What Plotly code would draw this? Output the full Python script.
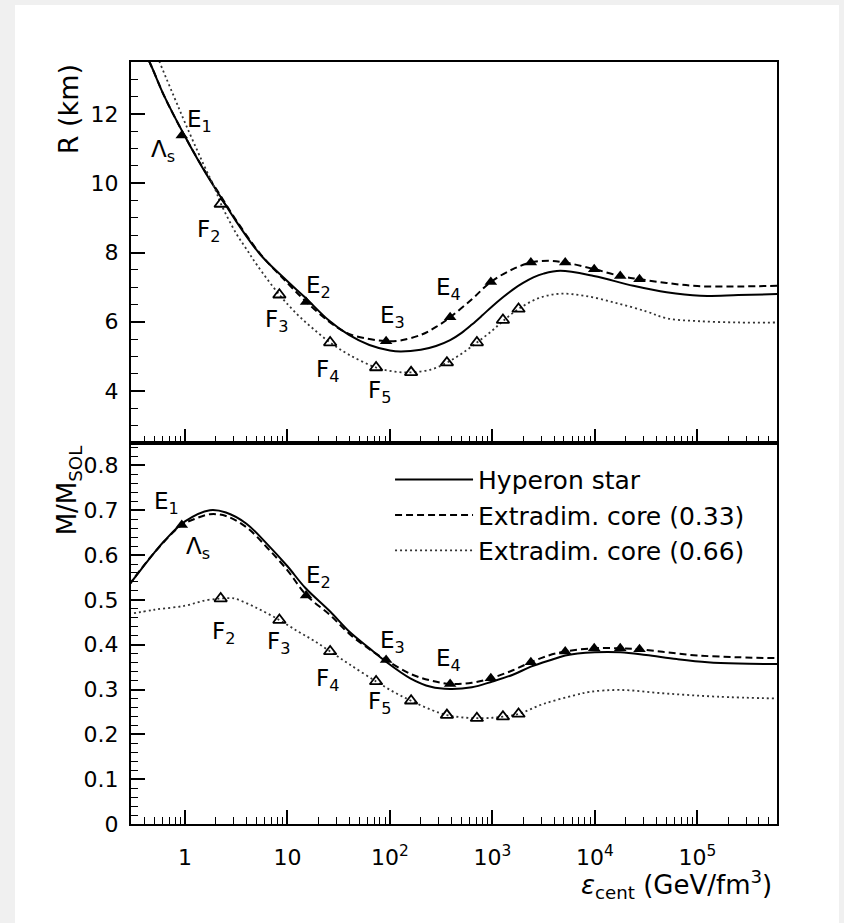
import numpy as np
import plotly.graph_objects as go

# ---------------- data ----------------
# Top panel: radius R (km) vs central energy density (GeV/fm^3)
hyp_R_eps = [0.355, 0.455, 0.631, 1.0, 1.585, 2.2, 3.16, 5.4, 10, 14.9, 25.1, 39.8, 63.1, 100, 126,
             200, 282, 387, 501, 631, 794, 1000, 1259, 1585, 1995, 2512, 3162, 4592, 9772, 23714,
             50119, 107152, 251189, 602560]
hyp_R = [14.1, 13.47, 12.5, 11.35, 10.3, 9.63, 8.9, 7.95, 7.17, 6.70, 6.05, 5.62, 5.33, 5.17, 5.14,
         5.19, 5.30, 5.47, 5.68, 5.92, 6.18, 6.45, 6.70, 6.93, 7.12, 7.28, 7.39, 7.47, 7.32, 7.04,
         6.85, 6.75, 6.77, 6.80]

x33_R_eps = [0.355, 0.455, 0.631, 1.0, 1.585, 2.2, 3.16, 5.4, 10, 15.2, 25.1, 39.8, 63.1, 91.8, 126,
             200, 282, 387, 631, 966, 1585, 2375, 3548, 5140, 9863, 17700, 27290, 50119, 1e5, 251189, 602560]
x33_R = [14.1, 13.47, 12.5, 11.35, 10.32, 9.66, 8.93, 7.97, 7.12, 6.58, 6.02, 5.65, 5.50, 5.44, 5.46,
         5.62, 5.85, 6.13, 6.65, 7.15, 7.52, 7.71, 7.76, 7.71, 7.52, 7.32, 7.23, 7.12, 7.03, 7.02, 7.04]

x66_R_eps = [0.355, 0.570, 0.794, 1.0, 1.41, 2.0, 2.23, 3.16, 3.98, 5.01, 8.34, 12.6, 17.8, 26.1, 39.8,
             73.3, 112, 161, 251, 360, 501, 706, 1000, 1268, 1800, 2818, 4571, 7943, 15849, 31623,
             50119, 1e5, 251189, 602560]
x66_R = [15.0, 13.47, 12.45, 11.75, 10.75, 9.78, 9.42, 8.55, 8.1, 7.65, 6.78, 6.2, 5.8, 5.40, 5.05,
         4.68, 4.56, 4.54, 4.62, 4.82, 5.08, 5.40, 5.75, 6.02, 6.37, 6.68, 6.81, 6.75, 6.55, 6.30,
         6.10, 6.02, 5.98, 5.98]

# Bottom panel: mass M/M_sol vs central energy density
hyp_M_eps = [0.282, 0.5, 0.631, 1.0, 1.75, 2.51, 3.98, 6.31, 10, 14.9, 26.1, 39.8, 63.1, 91.8, 158,
             251, 387, 631, 1000, 1585, 2375, 3981, 5140, 10000, 17783, 31623, 63096, 125893, 251189, 602560]
hyp_M = [0.532, 0.605, 0.632, 0.675, 0.700, 0.695, 0.670, 0.625, 0.575, 0.527, 0.474, 0.430, 0.392, 0.362, 0.325,
         0.306, 0.301, 0.305, 0.318, 0.333, 0.351, 0.368, 0.376, 0.383, 0.383, 0.377, 0.368, 0.361, 0.358, 0.357]

x33_M_eps = [0.282, 0.5, 0.93, 1.26, 1.75, 2.51, 3.98, 6.31, 10, 15.2, 26.1, 39.8, 63.1, 91.8, 158,
             251, 387, 631, 966, 1585, 2375, 3548, 5140, 9863, 17700, 27290, 50119, 1e5, 251189, 602560]
x33_M = [0.532, 0.605, 0.667, 0.681, 0.691, 0.687, 0.662, 0.617, 0.566, 0.511, 0.466, 0.425, 0.390, 0.366, 0.335,
         0.320, 0.3125, 0.315, 0.325, 0.343, 0.361, 0.376, 0.385, 0.392, 0.392, 0.390, 0.383, 0.376, 0.372, 0.370]

x66_M_eps = [0.282, 0.5, 1.0, 1.585, 2.23, 2.82, 3.16, 5.01, 8.34, 12.6, 17.8, 26.1, 39.8, 73.3, 112,
             161, 251, 360, 501, 706, 1000, 1268, 1800, 3162, 6310, 9016, 17783, 50119, 158489, 602560]
x66_M = [0.468, 0.478, 0.487, 0.499, 0.503, 0.504, 0.502, 0.482, 0.455, 0.430, 0.410, 0.385, 0.357, 0.318, 0.293,
         0.275, 0.255, 0.243, 0.238, 0.236, 0.237, 0.2395, 0.2455, 0.268, 0.287, 0.295, 0.299, 0.291, 0.284, 0.280]

# Marked configurations
E_eps = [0.93, 15.2, 91.8, 387, 966, 2375, 5140, 9863, 17700, 27290]
E_R = [11.38, 6.57, 5.44, 6.13, 7.15, 7.71, 7.71, 7.52, 7.32, 7.23]
E_M = [0.667, 0.510, 0.366, 0.3125, 0.325, 0.361, 0.385, 0.392, 0.392, 0.390]
F_eps = [2.23, 8.34, 26.1, 73.3, 161, 360, 706, 1268, 1800]
F_R = [9.40, 6.78, 5.40, 4.68, 4.54, 4.82, 5.40, 6.05, 6.37]
F_M = [0.503, 0.455, 0.385, 0.318, 0.275, 0.243, 0.236, 0.2395, 0.2455]

# Point labels: text, eps, value
top_labels = [("E<sub>1</sub>", 1.40, 11.79), ("Λ<sub>s</sub>", 0.61, 10.93), ("E<sub>2</sub>", 19.9, 7.0),
              ("F<sub>2</sub>", 1.68, 8.62), ("F<sub>3</sub>", 7.9, 6.03), ("F<sub>4</sub>", 24.4, 4.59),
              ("E<sub>3</sub>", 105, 6.13), ("E<sub>4</sub>", 370, 6.96), ("F<sub>5</sub>", 80, 3.97)]
bot_labels = [("E<sub>1</sub>", 0.667, 0.716), ("Λ<sub>s</sub>", 1.34, 0.616), ("E<sub>2</sub>", 19.9, 0.552),
              ("F<sub>2</sub>", 2.35, 0.426), ("F<sub>3</sub>", 8.1, 0.404), ("F<sub>4</sub>", 24.4, 0.321),
              ("E<sub>3</sub>", 105, 0.407), ("E<sub>4</sub>", 370, 0.366), ("F<sub>5</sub>", 80, 0.269)]

x_tickvals = [1, 10, 100, 1000, 1e4, 1e5]
x_ticktext = ["1", "10", "10<sup>2</sup>", "10<sup>3</sup>", "10<sup>4</sup>", "10<sup>5</sup>"]
R_tickvals = [4, 6, 8, 10, 12]
M_tickvals = [0, 0.1, 0.2, 0.3, 0.4, 0.5, 0.6, 0.7, 0.8]
M_ticktext = ["0", "0.1", "0.2", "0.3", "0.4", "0.5", "0.6", "0.7", "0.8"]
series_names = ["Hyperon star", "Extradim. core (0.33)", "Extradim. core (0.66)"]

# ---------------- figure ----------------
FONT = "DejaVu Sans"
styles = [dict(color="black", width=2, dash="solid"),
          dict(color="black", width=2, dash="7px,4px"),
          dict(color="#333333", width=1.8, dash="2px,3px")]

fig = go.Figure()
top_curves = [(hyp_R_eps, hyp_R), (x33_R_eps, x33_R), (x66_R_eps, x66_R)]
bot_curves = [(hyp_M_eps, hyp_M), (x33_M_eps, x33_M), (x66_M_eps, x66_M)]
for i, (xs, ys) in enumerate(top_curves):
    fig.add_trace(go.Scatter(x=xs, y=ys, mode="lines", line=styles[i], line_shape="spline",
                             name=series_names[i], showlegend=True, xaxis="x", yaxis="y"))
for i, (xs, ys) in enumerate(bot_curves):
    fig.add_trace(go.Scatter(x=xs, y=ys, mode="lines", line=styles[i], line_shape="spline",
                             name=series_names[i], showlegend=False, xaxis="x2", yaxis="y2"))

filled = dict(symbol="triangle-up", size=11, color="black")
opened = dict(symbol="triangle-up-open", size=11, color="black", line=dict(width=1.8, color="black"))
fig.add_trace(go.Scatter(x=E_eps, y=E_R, mode="markers", marker=filled, showlegend=False, xaxis="x", yaxis="y"))
fig.add_trace(go.Scatter(x=F_eps, y=F_R, mode="markers", marker=opened, showlegend=False, xaxis="x", yaxis="y"))
fig.add_trace(go.Scatter(x=E_eps, y=E_M, mode="markers", marker=filled, showlegend=False, xaxis="x2", yaxis="y2"))
fig.add_trace(go.Scatter(x=F_eps, y=F_M, mode="markers", marker=opened, showlegend=False, xaxis="x2", yaxis="y2"))

minor_x = [m * 10.0 ** d for d in range(-1, 6) for m in range(2, 10)]
axis_common = dict(showline=True, linecolor="black", linewidth=2, mirror=True, showgrid=False,
                   zeroline=False, ticks="inside", ticklen=14, tickwidth=1.5, tickcolor="black",
                   tickfont=dict(family=FONT, size=22, color="black"))
xcommon = dict(axis_common, type="log", range=[-0.527, 5.778], tickmode="array",
               tickvals=x_tickvals, ticktext=x_ticktext,
               minor=dict(tickmode="array", tickvals=minor_x, ticks="inside", ticklen=7,
                          tickwidth=1.2, tickcolor="black", showgrid=False))
fig.update_layout(
    xaxis=dict(xcommon, anchor="y", showticklabels=False),
    xaxis2=dict(xcommon, anchor="y2", ticklabelstandoff=13),
    yaxis=dict(axis_common, domain=[0.5, 1.0], anchor="x", range=[2.5, 13.5], tickmode="array",
               tickvals=R_tickvals, ticklabelstandoff=6,
               minor=dict(dtick=0.5, tick0=0, ticks="inside", ticklen=7, tickwidth=1.2,
                          tickcolor="black", showgrid=False)),
    yaxis2=dict(axis_common, domain=[0.0, 0.5], anchor="x2", range=[0, 0.85], tickmode="array",
                tickvals=M_tickvals, ticktext=M_ticktext, ticklabelstandoff=6,
                minor=dict(dtick=0.02, tick0=0, ticks="inside", ticklen=7, tickwidth=1.2,
                           tickcolor="black", showgrid=False)),
)

annots = []
for txt, ex, ev in top_labels:
    annots.append(dict(text=txt, x=np.log10(ex), y=ev, xref="x", yref="y", showarrow=False,
                       font=dict(family=FONT, size=23, color="black")))
for txt, ex, ev in bot_labels:
    annots.append(dict(text=txt, x=np.log10(ex), y=ev, xref="x2", yref="y2", showarrow=False,
                       font=dict(family=FONT, size=23, color="black")))
annots += [
    dict(text="R (km)", textangle=-90, x=-0.097, y=1.0, xref="paper", yref="paper",
         xanchor="center", yanchor="top", showarrow=False, font=dict(family=FONT, size=27, color="black")),
    dict(text="M/M<sub>SOL</sub>", textangle=-90, x=-0.097, y=0.5, xref="paper", yref="paper",
         xanchor="center", yanchor="top", showarrow=False, font=dict(family=FONT, size=26, color="black")),
    dict(text="<i>ε</i><sub>cent</sub> (GeV/fm<sup>3</sup>)", x=0.995, y=-0.08, xref="paper", yref="paper",
         xanchor="right", yanchor="middle", showarrow=False, font=dict(family=FONT, size=26, color="black")),
]

fig.update_layout(
    width=844, height=923,
    margin=dict(l=131, r=67, t=62, b=99),
    paper_bgcolor="#f0f0f0", plot_bgcolor="white",
    annotations=annots,
    shapes=[dict(type="rect", xref="paper", yref="paper", x0=-0.1796, x1=1.096, y0=-0.2, y1=1.0748,
                 fillcolor="white", line=dict(width=0), layer="below")],
    legend=dict(x=0.401, y=0.482, xanchor="left", yanchor="top", bgcolor="rgba(0,0,0,0)",
                font=dict(family=FONT, size=25, color="black"), itemwidth=78, tracegroupgap=0),
    showlegend=True,
)

fig.write_html("out.html", config={"displayModeBar": False},
               post_script="document.body.style.margin='0px';")
